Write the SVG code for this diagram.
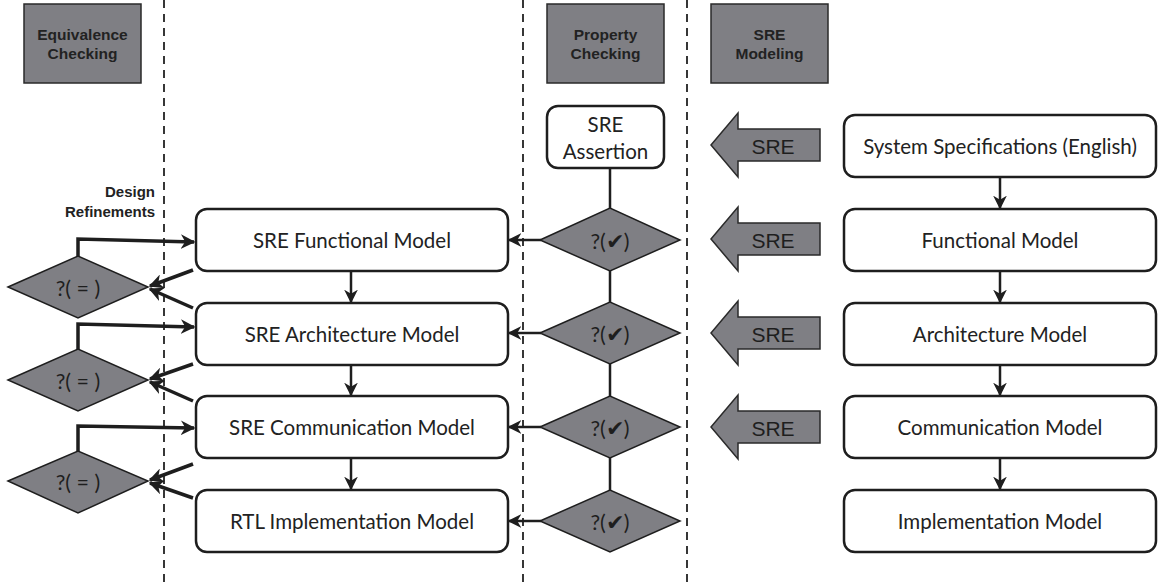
<svg xmlns="http://www.w3.org/2000/svg" width="1166" height="587" viewBox="0 0 1166 587">
  <style>
    .hdr { fill: #7f7f84; stroke: #2a2a2a; stroke-width: 1.5; }
    .hdrtxt { font-family: "Liberation Sans", Arial, sans-serif; font-weight: bold; font-size: 15.5px; fill: #222; text-anchor: middle; }
    .box { fill: #fff; stroke: #1e1e1e; stroke-width: 2.5; }
    .lbl { font-family: Lato, "Open Sans", sans-serif; font-size: 20.5px; fill: #222; text-anchor: middle; dominant-baseline: central; }
    .dia { fill: #7f7f84; stroke: #1e1e1e; stroke-width: 1.5; }
    .dtxt { font-family: Lato, "Open Sans", sans-serif; font-size: 21.5px; fill: #1e1e1e; text-anchor: middle; dominant-baseline: central; }
    .sre { fill: #7f7f84; stroke: #2a2a2a; stroke-width: 1.5; }
    .sretxt { font-family: "Liberation Sans", Arial, sans-serif; font-size: 21px; fill: #1e1e1e; text-anchor: middle; dominant-baseline: central; }
    .dash { stroke: #222; stroke-width: 1.8; stroke-dasharray: 8 6; fill: none; }
    .ln { stroke: #1e1e1e; stroke-width: 2.5; fill: none; }
    .thick { stroke: #1e1e1e; stroke-width: 3.5; fill: none; }
    .side { font-family: "Liberation Sans", Arial, sans-serif; font-weight: bold; font-size: 15px; fill: #222; text-anchor: end; }
  </style>
  <defs>
    <marker id="ah" viewBox="0 0 10 10" refX="9" refY="5" markerWidth="5.5" markerHeight="5.5" orient="auto" markerUnits="strokeWidth">
      <path d="M0,0 L10,5 L0,10 L3,5 z" fill="#1e1e1e"/>
    </marker>
    <marker id="ahT" viewBox="0 0 10 10" refX="9" refY="5" markerWidth="4.2" markerHeight="4.2" orient="auto" markerUnits="strokeWidth">
      <path d="M0,0 L10,5 L0,10 L3,5 z" fill="#1e1e1e"/>
    </marker>
  </defs>

  <rect width="1166" height="587" fill="#fff"/>

  <!-- lane separators -->
  <g id="separators">
    <line class="dash" x1="164" y1="0" x2="164" y2="587"/>
    <line class="dash" x1="523" y1="0" x2="523" y2="587"/>
    <line class="dash" x1="687" y1="0" x2="687" y2="587"/>
  </g>

  <!-- lane headers -->
  <g id="hdr-equivalence">
    <rect class="hdr" x="24" y="4" width="117" height="79"/>
    <text class="hdrtxt" x="82.5" y="40">Equivalence</text>
    <text class="hdrtxt" x="82.5" y="59">Checking</text>
  </g>
  <g id="hdr-property">
    <rect class="hdr" x="547" y="4" width="117" height="79"/>
    <text class="hdrtxt" x="605.5" y="40">Property</text>
    <text class="hdrtxt" x="605.5" y="59">Checking</text>
  </g>
  <g id="hdr-modeling">
    <rect class="hdr" x="711" y="4" width="117" height="79"/>
    <text class="hdrtxt" x="769.5" y="40">SRE</text>
    <text class="hdrtxt" x="769.5" y="59">Modeling</text>
  </g>

  <g id="design-refinements">
    <text class="side" x="155" y="197">Design</text>
    <text class="side" x="155" y="217">Refinements</text>
  </g>

  <!-- connectors -->
  <g id="connectors">
    <!-- property-check spine -->
    <line class="ln" x1="610" y1="168" x2="610" y2="490"/>
    <!-- property checks to SRE models -->
    <line class="ln" x1="541" y1="240" x2="509" y2="240" marker-end="url(#ah)"/>
    <line class="ln" x1="541" y1="333" x2="509" y2="333" marker-end="url(#ah)"/>
    <line class="ln" x1="541" y1="427" x2="509" y2="427" marker-end="url(#ah)"/>
    <line class="ln" x1="541" y1="521" x2="509" y2="521" marker-end="url(#ah)"/>
    <!-- SRE model refinement chain -->
    <line class="ln" x1="351" y1="271" x2="351" y2="302" marker-end="url(#ah)"/>
    <line class="ln" x1="351" y1="365" x2="351" y2="395" marker-end="url(#ah)"/>
    <line class="ln" x1="351" y1="459" x2="351" y2="489" marker-end="url(#ah)"/>
    <!-- specification chain -->
    <line class="ln" x1="1000" y1="177" x2="1000" y2="208" marker-end="url(#ah)"/>
    <line class="ln" x1="1000" y1="271" x2="1000" y2="302" marker-end="url(#ah)"/>
    <line class="ln" x1="1000" y1="365" x2="1000" y2="395" marker-end="url(#ah)"/>
    <line class="ln" x1="1000" y1="459" x2="1000" y2="489" marker-end="url(#ah)"/>
    <!-- equivalence inputs -->
    <line class="thick" x1="193" y1="270" x2="150" y2="286" marker-end="url(#ahT)"/>
    <line class="thick" x1="193" y1="308" x2="150" y2="289" marker-end="url(#ahT)"/>
    <line class="thick" x1="193" y1="364" x2="150" y2="379" marker-end="url(#ahT)"/>
    <line class="thick" x1="193" y1="401" x2="150" y2="382" marker-end="url(#ahT)"/>
    <line class="thick" x1="193" y1="464" x2="150" y2="480" marker-end="url(#ahT)"/>
    <line class="thick" x1="193" y1="498" x2="150" y2="483" marker-end="url(#ahT)"/>
    <!-- design refinement feedback -->
    <polyline class="thick" points="78,257 78,239 194,242" marker-end="url(#ahT)"/>
    <polyline class="thick" points="78,350 78,324 194,327" marker-end="url(#ahT)"/>
    <polyline class="thick" points="78,452 78,426 194,428" marker-end="url(#ahT)"/>
  </g>

  <!-- specification models -->
  <g id="spec-system">
    <rect class="box" x="844" y="115" width="312" height="62" rx="11"/>
    <text class="lbl" x="1000" y="146">System Specifications (English)</text>
  </g>
  <g id="spec-functional">
    <rect class="box" x="844" y="209" width="312" height="62" rx="11"/>
    <text class="lbl" x="1000" y="240">Functional Model</text>
  </g>
  <g id="spec-architecture">
    <rect class="box" x="844" y="303" width="312" height="62" rx="11"/>
    <text class="lbl" x="1000" y="334">Architecture Model</text>
  </g>
  <g id="spec-communication">
    <rect class="box" x="844" y="396" width="312" height="62" rx="11"/>
    <text class="lbl" x="1000" y="427">Communication Model</text>
  </g>
  <g id="spec-implementation">
    <rect class="box" x="844" y="490" width="312" height="62" rx="11"/>
    <text class="lbl" x="1000" y="521">Implementation Model</text>
  </g>

  <!-- SRE modeling arrows -->
  <g id="sre-arrow-1">
    <polygon class="sre" points="711,145 738,113 738,129 820,129 820,161 738,161 738,177"/>
    <text class="sretxt" x="773" y="146">SRE</text>
  </g>
  <g id="sre-arrow-2">
    <polygon class="sre" points="711,239 738,207 738,223 820,223 820,255 738,255 738,271"/>
    <text class="sretxt" x="773" y="240">SRE</text>
  </g>
  <g id="sre-arrow-3">
    <polygon class="sre" points="711,333 738,301 738,317 820,317 820,349 738,349 738,365"/>
    <text class="sretxt" x="773" y="334">SRE</text>
  </g>
  <g id="sre-arrow-4">
    <polygon class="sre" points="711,427 738,395 738,411 820,411 820,443 738,443 738,459"/>
    <text class="sretxt" x="773" y="428">SRE</text>
  </g>

  <!-- property checking -->
  <g id="sre-assertion">
    <rect class="box" x="547" y="106" width="117" height="62" rx="11"/>
    <text class="lbl" x="605.5" y="124">SRE</text>
    <text class="lbl" x="605.5" y="151">Assertion</text>
  </g>
  <g id="pc-1">
    <polygon class="dia" points="540,240 610,208 680,240 610,271"/>
    <text class="dtxt" x="610" y="241">?(✔)</text>
  </g>
  <g id="pc-2">
    <polygon class="dia" points="540,333 610,302 680,333 610,364"/>
    <text class="dtxt" x="610" y="334">?(✔)</text>
  </g>
  <g id="pc-3">
    <polygon class="dia" points="540,427 610,396 680,427 610,458"/>
    <text class="dtxt" x="610" y="428">?(✔)</text>
  </g>
  <g id="pc-4">
    <polygon class="dia" points="540,521 610,490 680,521 610,552"/>
    <text class="dtxt" x="610" y="522">?(✔)</text>
  </g>

  <!-- SRE models -->
  <g id="sre-functional">
    <rect class="box" x="196" y="209" width="312" height="62" rx="11"/>
    <text class="lbl" x="352" y="240">SRE Functional Model</text>
  </g>
  <g id="sre-architecture">
    <rect class="box" x="196" y="303" width="312" height="62" rx="11"/>
    <text class="lbl" x="352" y="334">SRE Architecture Model</text>
  </g>
  <g id="sre-communication">
    <rect class="box" x="196" y="396" width="312" height="62" rx="11"/>
    <text class="lbl" x="352" y="427">SRE Communication Model</text>
  </g>
  <g id="rtl-implementation">
    <rect class="box" x="196" y="490" width="312" height="62" rx="11"/>
    <text class="lbl" x="352" y="521">RTL Implementation Model</text>
  </g>

  <!-- equivalence checks -->
  <g id="ec-1">
    <polygon class="dia" points="8,287 78,256 148,287 78,318"/>
    <text class="dtxt" x="78" y="288">?( = )</text>
  </g>
  <g id="ec-2">
    <polygon class="dia" points="8,380 78,349 148,380 78,411"/>
    <text class="dtxt" x="78" y="381">?( = )</text>
  </g>
  <g id="ec-3">
    <polygon class="dia" points="8,481 78,451 148,481 78,513"/>
    <text class="dtxt" x="78" y="482">?( = )</text>
  </g>
</svg>
